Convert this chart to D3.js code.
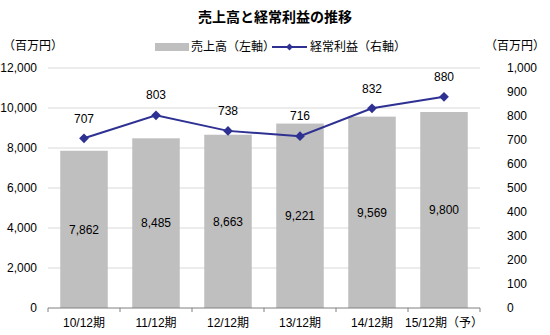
<!DOCTYPE html>
<html>
<head>
<meta charset="utf-8">
<script src="https://cdn.jsdelivr.net/npm/d3@7"></script>
<style>
  body { margin: 0; background: #fff; }
  text { font-family: "Liberation Sans", "Noto Sans CJK JP", sans-serif; fill: #000; }
</style>
</head>
<body>
<div id="chart"></div>
<script>
const periods = ['10/12期', '11/12期', '12/12期', '13/12期', '14/12期', '15/12期（予）'];
const sales = [7862, 8485, 8663, 9221, 9569, 9800];
const profit = [707, 803, 738, 716, 832, 880];
const leftTicks = [0, 2000, 4000, 6000, 8000, 10000, 12000];
const rightTicks = [0, 100, 200, 300, 400, 500, 600, 700, 800, 900, 1000];

function ready(fn) {
  if (document.readyState != 'loading') {
    fn();
  } else {
    document.addEventListener('DOMContentLoaded', fn);
  }
}
ready(main);

function main() {
  let width = 550, height = 335;
  let margin = ({top: 68, right: 70, bottom: 27, left: 48});

  const svg = d3.select('#chart').append('svg')
    .attr('width', width)
    .attr('height', height);

  let x = d3.scaleBand()
    .domain(periods)
    .range([margin.left, width - margin.right])
    .paddingInner(0.34)
    .paddingOuter(0.17);

  let yL = d3.scaleLinear().domain([0, 12000]).range([height - margin.bottom, margin.top]);
  let yR = d3.scaleLinear().domain([0, 1000]).range([height - margin.bottom, margin.top]);

  // gridlines
  svg.append('g')
    .selectAll('line')
    .data(leftTicks.slice(1))
    .join('line')
    .attr('x1', margin.left)
    .attr('x2', width - margin.right)
    .attr('y1', d => yL(d))
    .attr('y2', d => yL(d))
    .attr('stroke', '#d9d9d9')
    .attr('stroke-width', 1);

  // bars
  svg.append('g')
    .attr('fill', '#bfbfbf')
    .selectAll('rect')
    .data(sales)
    .join('rect')
    .attr('x', (d, i) => x(periods[i]))
    .attr('width', x.bandwidth())
    .attr('y', d => yL(d))
    .attr('height', d => yL(0) - yL(d));

  // bar labels
  svg.append('g')
    .selectAll('text')
    .data(sales)
    .join('text')
    .attr('x', (d, i) => x(periods[i]) + x.bandwidth() / 2)
    .attr('y', d => (yL(d) + yL(0)) / 2)
    .attr('dy', '0.35em')
    .attr('text-anchor', 'middle')
    .attr('font-size', 12)
    .text(d => d3.format(',')(d));

  // x axis
  let step = x.step();
  let bounds = d3.range(periods.length + 1).map(i => margin.left + i * step);
  let base = yL(0);
  svg.append('line')
    .attr('x1', margin.left).attr('x2', width - margin.right)
    .attr('y1', base).attr('y2', base)
    .attr('stroke', '#808080');
  svg.append('g')
    .selectAll('line')
    .data(bounds)
    .join('line')
    .attr('x1', d => d).attr('x2', d => d)
    .attr('y1', base).attr('y2', base + 4)
    .attr('stroke', '#808080');
  svg.append('g')
    .selectAll('text')
    .data(periods)
    .join('text')
    .attr('x', d => x(d) + x.bandwidth() / 2)
    .attr('y', 323)
    .attr('dy', '0.35em')
    .attr('text-anchor', 'middle')
    .attr('font-size', 12)
    .text(d => d);

  // left axis labels
  svg.append('g')
    .selectAll('text')
    .data(leftTicks)
    .join('text')
    .attr('x', 37)
    .attr('y', d => yL(d))
    .attr('dy', '0.35em')
    .attr('text-anchor', 'end')
    .attr('font-size', 12)
    .text(d => d3.format(',')(d));

  // right axis labels
  svg.append('g')
    .selectAll('text')
    .data(rightTicks)
    .join('text')
    .attr('x', 507)
    .attr('y', d => yR(d))
    .attr('dy', '0.35em')
    .attr('text-anchor', 'start')
    .attr('font-size', 12)
    .text(d => d3.format(',')(d));

  // profit line
  let line = d3.line()
    .x((d, i) => x(periods[i]) + x.bandwidth() / 2)
    .y(d => yR(d));
  svg.append('path')
    .datum(profit)
    .attr('d', line)
    .attr('fill', 'none')
    .attr('stroke', '#2e3192')
    .attr('stroke-width', 2);

  let diamond = d3.symbol().type(d3.symbolDiamond2).size(60);
  svg.append('g')
    .selectAll('path')
    .data(profit)
    .join('path')
    .attr('d', diamond)
    .attr('transform', (d, i) => `translate(${x(periods[i]) + x.bandwidth() / 2},${yR(d)})`)
    .attr('fill', '#2e3192');

  svg.append('g')
    .selectAll('text')
    .data(profit)
    .join('text')
    .attr('x', (d, i) => x(periods[i]) + x.bandwidth() / 2)
    .attr('y', d => yR(d) - 20)
    .attr('dy', '0.35em')
    .attr('text-anchor', 'middle')
    .attr('font-size', 12)
    .text(d => d);

  // title
  svg.append('text')
    .attr('x', 275)
    .attr('y', 17)
    .attr('dy', '0.35em')
    .attr('text-anchor', 'middle')
    .attr('font-size', 14)
    .attr('font-weight', 'bold')
    .text('売上高と経常利益の推移');

  // unit labels
  svg.append('text')
    .attr('x', 33).attr('y', 46).attr('dy', '0.35em')
    .attr('text-anchor', 'middle').attr('font-size', 12)
    .text('（百万円）');
  svg.append('text')
    .attr('x', 515).attr('y', 46).attr('dy', '0.35em')
    .attr('text-anchor', 'middle').attr('font-size', 12)
    .text('（百万円）');

  // legend
  let lg = svg.append('g').attr('transform', 'translate(0,47)');
  lg.append('rect')
    .attr('x', 155).attr('y', -4).attr('width', 34).attr('height', 8)
    .attr('fill', '#bfbfbf');
  lg.append('text')
    .attr('x', 191).attr('dy', '0.35em').attr('font-size', 12)
    .text('売上高（左軸）');
  lg.append('line')
    .attr('x1', 272).attr('x2', 307)
    .attr('stroke', '#2e3192').attr('stroke-width', 2);
  lg.append('path')
    .attr('d', d3.symbol().type(d3.symbolDiamond2).size(30))
    .attr('transform', 'translate(289.5,0)')
    .attr('fill', '#2e3192');
  lg.append('text')
    .attr('x', 310).attr('dy', '0.35em').attr('font-size', 12)
    .text('経常利益（右軸）');
}
</script>
</body>
</html>
